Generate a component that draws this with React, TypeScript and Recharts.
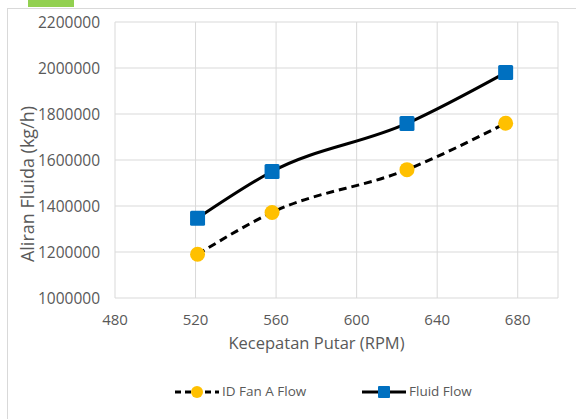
import { LineChart, Line, XAxis, YAxis, CartesianGrid, Legend } from 'recharts';

const rpm = [521, 558, 625, 674];
const idFanAFlow = [1190000, 1372000, 1558000, 1760000];
const fluidFlow = [1347000, 1550000, 1759000, 1980000];
const xTicks = [480, 520, 560, 600, 640, 680];
const yTicks = [1000000, 1200000, 1400000, 1600000, 1800000, 2000000, 2200000];

const data = rpm.map((x, i) => ({ rpm: x, idFan: idFanAFlow[i], fluid: fluidFlow[i] }));

const FONT = '"Open Sans", sans-serif';
const TEXT = '#595959';

const SquareDot = (props: any) => {
  const { cx, cy, index } = props;
  return <rect key={`sq-${index}`} x={cx - 7.5} y={cy - 7.5} width={15} height={15} rx={1.5} fill="#0070c0" />;
};

const CircleDot = (props: any) => {
  const { cx, cy, index } = props;
  return <circle key={`ci-${index}`} cx={cx} cy={cy} r={7.5} fill="#ffc000" />;
};

const LegendContent = () => (
  <div style={{ position: 'relative', width: 576, height: 20, fontFamily: FONT, fontSize: 13.5, color: TEXT }}>
    <svg width={44} height={20} style={{ position: 'absolute', left: 175, top: 0 }}>
      <line x1={0} y1={10} x2={44} y2={10} stroke="#000" strokeWidth={3} strokeDasharray="6 4" />
      <circle cx={22} cy={10} r={6} fill="#ffc000" />
    </svg>
    <span style={{ position: 'absolute', left: 222, top: 0 }}>ID Fan A Flow</span>
    <svg width={44} height={20} style={{ position: 'absolute', left: 362, top: 0 }}>
      <line x1={0} y1={10} x2={44} y2={10} stroke="#000" strokeWidth={3} />
      <rect x={16} y={4} width={12} height={12} rx={1} fill="#0070c0" />
    </svg>
    <span style={{ position: 'absolute', left: 409, top: 0 }}>Fluid Flow</span>
  </div>
);

export default function App() {
  return (
    <div style={{ position: 'absolute', left: 0, top: 0, width: 576, height: 419, overflow: 'hidden', background: '#fff' }}>
      <div style={{ position: 'absolute', left: 28, top: 0, width: 46, height: 7, background: '#92d050' }} />
      <div style={{ position: 'absolute', left: 7, top: 8, width: 600, height: 430, border: '1px solid #d9d9d9' }} />
      <div style={{ position: 'absolute', left: 0, top: 0 }}>
        <LineChart width={576} height={419} data={data} margin={{ top: 22, right: 18, left: 0, bottom: 61 }}>
          <CartesianGrid stroke="#d9d9d9" strokeWidth={1} />
          <XAxis
            dataKey="rpm"
            type="number"
            domain={[480, 700]}
            ticks={xTicks}
            axisLine={false}
            tickLine={false}
            tickSize={0}
            tickMargin={16}
            height={60}
            tick={{ fill: TEXT, fontSize: 15, fontFamily: FONT }}
            label={{ value: 'Kecepatan Putar (RPM)', position: 'center', dx: -20, dy: 15, fill: TEXT, fontSize: 16.5, fontFamily: FONT }}
          />
          <YAxis
            type="number"
            domain={[1000000, 2200000]}
            ticks={yTicks}
            axisLine={false}
            tickLine={false}
            tickSize={0}
            tickMargin={15}
            width={115}
            tick={{ fill: TEXT, fontSize: 15.5, fontFamily: FONT }}
            label={{ value: 'Aliran Fluida (kg/h)', angle: -90, position: 'center', dx: -30, dy: 24, fill: TEXT, fontSize: 18, fontFamily: FONT }}
          />
          <Legend layout="horizontal" verticalAlign="middle" align="center" wrapperStyle={{ top: 382, left: 0 }} content={LegendContent} />
          <Line
            type="monotone"
            dataKey="idFan"
            name="ID Fan A Flow"
            stroke="#000"
            strokeWidth={3}
            strokeDasharray="8 5"
            dot={CircleDot}
            activeDot={false}
            isAnimationActive={false}
          />
          <Line
            type="monotone"
            dataKey="fluid"
            name="Fluid Flow"
            stroke="#000"
            strokeWidth={3}
            dot={SquareDot}
            activeDot={false}
            isAnimationActive={false}
          />
        </LineChart>
      </div>
    </div>
  );
}
